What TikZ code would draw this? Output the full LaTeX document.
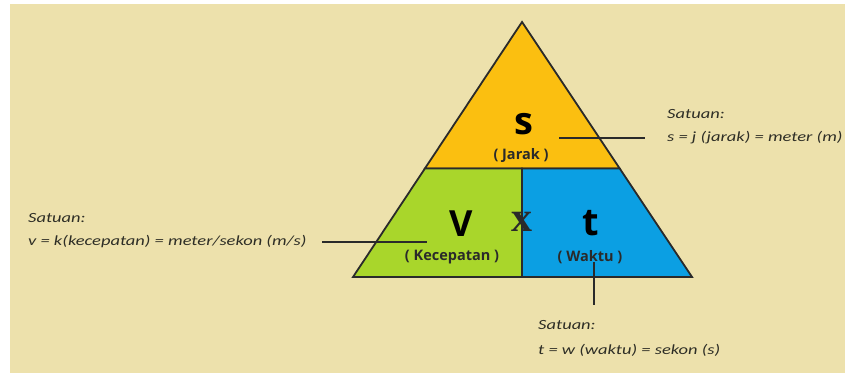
\documentclass[tikz,border=0pt]{standalone}
\usepackage{fontspec}
\setmainfont{Carlito}
\newfontfamily\notefont[FakeStretch=1.32]{Carlito}
\newfontfamily\bigfont{Open Sans}
\newfontfamily\xfont{Liberation Serif}
\definecolor{bgc}{HTML}{EDE1AC}
\definecolor{yel}{HTML}{FBBF10}
\definecolor{grn}{HTML}{A9D62B}
\definecolor{blu}{HTML}{0B9FE3}
\definecolor{ink}{HTML}{2A2A2A}
\definecolor{notec}{HTML}{2E2E26}
\begin{document}
\begin{tikzpicture}[x=1pt,y=-1pt,
  part/.style={draw=ink,line width=1.8pt,line join=miter},
  big/.style={font=\bigfont\bfseries\fontsize{#1}{#1}\selectfont,inner sep=0pt,text=black},
  lab/.style={font=\bigfont\bfseries\fontsize{14.5}{16}\selectfont,inner sep=0pt,text=ink},
  note/.style={font=\notefont\itshape\fontsize{14}{16}\selectfont,inner sep=0pt,anchor=west,text=notec},
  conn/.style={draw=ink,line width=1.6pt}]
\useasboundingbox (0,0) rectangle (845,373);
\fill[white] (0,0) rectangle (845,373);
\fill[bgc] (10,4) rectangle (845,373);
% triangle parts
\coordinate (A) at (522,22);
\coordinate (ML) at (424.9,168.5);
\coordinate (MC) at (522,168.5);
\coordinate (MR) at (619.7,168.5);
\coordinate (BL) at (353,277);
\coordinate (BC) at (522,277);
\coordinate (BR) at (692,277);
\path[part,fill=yel] (A) -- (MR) -- (ML) -- cycle;
\path[part,fill=grn] (ML) -- (MC) -- (BC) -- (BL) -- cycle;
\path[part,fill=blu] (MC) -- (MR) -- (BR) -- (BC) -- cycle;
% letters
\node[big=38] (s) at (524,124) {s};
\node[lab] (jarak) at (521,156) {( Jarak )};
\node[big=36] (v) at (461,224) {V};
\node[lab] (kec) at (452,257) {( Kecepatan )};
\node[font=\xfont\bfseries\fontsize{42}{42}\selectfont,inner sep=0pt,text=ink] (x) at (522,222) {x};
\node[big=38] (t) at (591,223) {t};
\node[lab] (waktu) at (590,257) {( Waktu )};
% notes
\node[note] (s1) at (667,114) {Satuan:};
\node[note] (s2) at (667,138) {s = j (jarak) = meter (m)};
\node[note] (v1) at (28,218) {Satuan:};
\node[note] (v2) at (28,242) {v = k(kecepatan) = meter/sekon (m/s)};
\node[note] (t1) at (538,325) {Satuan:};
\node[note] (t2) at (538,350) {t = w (waktu) = sekon (s)};
% connectors
\coordinate (sa) at (559,138);
\coordinate (sb) at (645,138);
\coordinate (va) at (322,242);
\coordinate (vb) at (427,242);
\coordinate (ta) at (594,262);
\coordinate (tb) at (594,305);
\draw[conn] (sa) -- (sb);
\draw[conn] (va) -- (vb);
\draw[conn] (ta) -- (tb);
\end{tikzpicture}
\end{document}
